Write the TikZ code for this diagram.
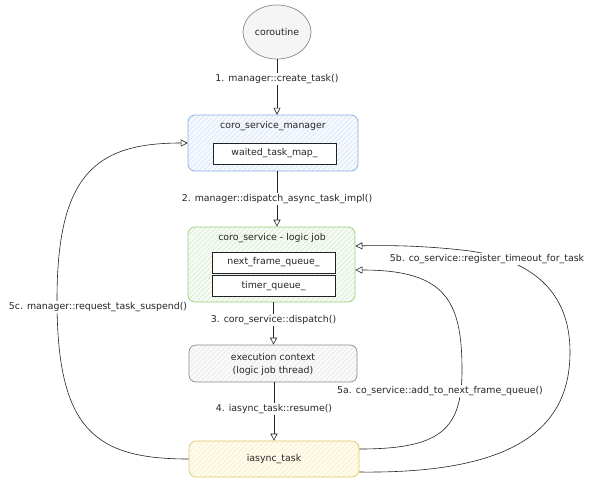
\documentclass[tikz,border=0pt]{standalone}
\usepackage{fontspec}
\setmainfont{DejaVu Sans}
\usetikzlibrary{arrows.meta,patterns.meta,calc,shapes.geometric}
\definecolor{bluebd}{HTML}{8AAEE4}
\definecolor{bluehat}{HTML}{D3E1F6}
\definecolor{bluebg}{HTML}{F6F9FE}
\definecolor{greenbd}{HTML}{9ACB82}
\definecolor{greenhat}{HTML}{D3E8C9}
\definecolor{greenbg}{HTML}{F7FBF5}
\definecolor{graybd}{HTML}{8A8A8A}
\definecolor{grayhat}{HTML}{E4E4E4}
\definecolor{graybg}{HTML}{FAFAFA}
\definecolor{yellowbd}{HTML}{E3C66B}
\definecolor{yellowhat}{HTML}{F6EAC0}
\definecolor{yellowbg}{HTML}{FFFCEE}
\definecolor{linecol}{HTML}{222222}
\begin{document}
\begin{tikzpicture}[x=1pt,y=-1pt,
  every node/.style={font=\fontsize{9.4}{11.5}\selectfont, text=black!85},
  hatch/.style={pattern={Lines[angle=45,distance=3.5pt,line width=0.5pt]}},
  container/.style={draw, rounded corners=7pt, line width=0.7pt, hatch, inner sep=0pt},
  inner/.style={draw=linecol, fill=white, line width=0.7pt, minimum width=123pt, minimum height=21pt, inner sep=0pt},
  conn/.style={draw=linecol, line width=0.6pt, -{Triangle[open,length=7pt,width=7pt]}},
  lbl/.style={fill=white, inner sep=1.5pt}
]
\useasboundingbox (0,0) rectangle (600,488);

% nodes
\node[ellipse, draw=graybd, fill=black!4, line width=0.7pt, minimum width=68pt, minimum height=54pt, inner sep=0pt] (coroutine) at (277,32) {coroutine};

\node[container, draw=bluebd, pattern color=bluehat, preaction={fill=bluebg}, minimum width=170pt, minimum height=56pt] (manager) at (273,143) {};
\node (managertitle) at (273,126) {coro\_service\_manager};
\node[inner] (waited) at (274.5,153.5) {waited\_task\_map\_};

\node[container, draw=greenbd, pattern color=greenhat, preaction={fill=greenbg}, minimum width=167pt, minimum height=75pt] (coro) at (271.5,264.5) {};
\node (corotitle) at (272,238) {coro\_service - logic job};
\node[inner] (nextframe) at (273.5,262.5) {next\_frame\_queue\_};
\node[inner] (timer) at (273.5,286) {timer\_queue\_};

\node[container, draw=graybd, pattern color=grayhat, preaction={fill=graybg}, minimum width=168pt, minimum height=37pt] (exec) at (273,363.5) {};
\node[align=center, font=\fontsize{9.4}{13}\selectfont] (exectext) at (273,364.5) {execution context\\(logic job thread)};

\node[container, draw=yellowbd, pattern color=yellowhat, preaction={fill=yellowbg}, minimum width=170pt, minimum height=36pt] (iasync) at (274,459) {};
\node (iasynctext) at (274,459) {iasync\_task};

% vertical connectors
\draw[conn] (coroutine.south) -- (coroutine.south |- manager.north)
  node[lbl, pos=0.35] {1. manager::create\_task()};
\draw[conn] ([xshift=4pt]manager.south) -- ([xshift=4pt]manager.south |- coro.north)
  node[lbl, pos=0.5] {2. manager::dispatch\_async\_task\_impl()};
\draw[conn] ([xshift=2pt]coro.south) -- ([xshift=2pt]coro.south |- exec.north)
  node[lbl, pos=0.42] {3. coro\_service::dispatch()};
\draw[conn] ([xshift=1pt]exec.south) -- ([xshift=1pt]exec.south |- iasync.north)
  node[lbl, pos=0.46] {4. iasync\_task::resume()};

% 5c left loop
\draw[conn] (iasync.west) .. controls (95,459) and (57,430) .. (57,300)
  .. controls (57,175) and (95,143) .. (manager.west);
\node[lbl] (l5c) at (98,307) {5c. manager::request\_task\_suspend()};

% 5a
\draw[conn] ([yshift=10pt]iasync.east) .. controls (440,449) and (462,430) .. (462,370)
  .. controls (462,300) and (445,270) .. ([yshift=-5.5pt]coro.east);
\node[lbl] (l5a) at (440,391) {5a. co\_service::add\_to\_next\_frame\_queue()};

% 5b
\draw[conn] ([yshift=-13pt]iasync.east) .. controls (520,474) and (570,425) .. (570,352)
  .. controls (570,290) and (530,260) .. (470,251)
  .. controls (430,246) and (390,245) .. ([yshift=18.5pt]coro.east);
\node[lbl] (l5b) at (487,259) {5b. co\_service::register\_timeout\_for\_task};
\end{tikzpicture}
\end{document}
